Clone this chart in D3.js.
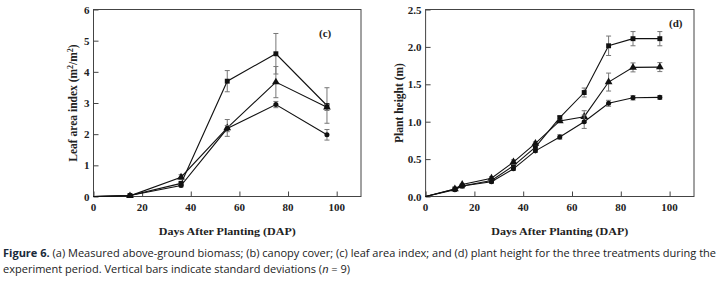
<!DOCTYPE html>
<html>
<head>
<meta charset="utf-8">
<script src="https://cdn.jsdelivr.net/npm/d3@7"></script>
<style>
  body { margin: 0; background: #fff; }
  svg { display: block; }
  .tick-label, .axis-title, .panel-tag { font-family: "Liberation Serif", "DejaVu Serif", serif; font-weight: bold; fill: #222; }
  .caption { font-family: "Liberation Sans Narrow", "Open Sans", sans-serif; fill: #222; }
</style>
</head>
<body>
<div id="chart"></div>
<script>
// (c) leaf area index
const dapC = [0, 15, 36, 55, 75, 96];
const laiSquare = [0, 0.03, 0.42, 3.70, 4.58, 2.92];
const laiSquareSd = [0, 0.01, 0.04, 0.34, 0.65, 0.57];
const laiTriangle = [0, 0.02, 0.62, 2.20, 3.67, 2.86];
const laiTriangleSd = [0, 0.01, 0.08, 0.27, 0.50, 0.10];
const laiCircle = [0, 0.03, 0.35, 2.18, 2.95, 1.98];
const laiCircleSd = [0, 0.01, 0.04, 0.10, 0.10, 0.17];

// (d) plant height
const dapD = [0, 12, 15, 27, 36, 45, 55, 65, 75, 85, 96];
const heightSquare = [0, 0.10, 0.14, 0.215, 0.41, 0.66, 1.055, 1.39, 2.015, 2.11, 2.11];
const heightSquareSd = [0, 0.01, 0.01, 0.02, 0.02, 0.03, 0.02, 0.06, 0.13, 0.095, 0.095];
const heightTriangle = [0, 0.10, 0.16, 0.245, 0.46, 0.71, 1.01, 1.067, 1.53, 1.726, 1.73];
const heightTriangleSd = [0, 0.01, 0.01, 0.02, 0.03, 0.02, 0.02, 0.08, 0.12, 0.06, 0.06];
const heightCircle = [0, 0.09, 0.14, 0.196, 0.37, 0.61, 0.796, 1.0, 1.246, 1.32, 1.325];
const heightCircleSd = [0, 0.01, 0.01, 0.02, 0.02, 0.02, 0.03, 0.09, 0.04, 0.03, 0.025];

const xTicks = [0, 20, 40, 60, 80, 100];
const laiTicks = [0, 1, 2, 3, 4, 5, 6];
const heightTicks = [0, 0.5, 1.0, 1.5, 2.0, 2.5];

const svg = d3.select("#chart").append("svg")
    .attr("width", 725)
    .attr("height", 282);

function zip(xs, ys, sds) {
    return xs.map((x, i) => ({ x: x, y: ys[i], sd: sds[i] }));
}

function drawPanel(opts) {
    const x = d3.scaleLinear().domain([0, 110]).range([opts.left, opts.right]);
    const y = d3.scaleLinear().domain(opts.yDomain).range([opts.bottom, opts.top]);
    const g = svg.append("g");

    // frame
    g.append("rect")
        .attr("x", opts.left).attr("y", opts.top)
        .attr("width", opts.right - opts.left)
        .attr("height", opts.bottom - opts.top)
        .attr("fill", "none").attr("stroke", "#444").attr("stroke-width", 1);

    // axes, ticks point inward
    const xAxis = g.append("g")
        .attr("transform", `translate(0,${opts.bottom})`)
        .call(d3.axisTop(x).tickValues(xTicks).tickSize(5).tickFormat(""));
    xAxis.select(".domain").remove();
    xAxis.selectAll("line").attr("stroke", "#444");

    const yAxis = g.append("g")
        .attr("transform", `translate(${opts.left},0)`)
        .call(d3.axisRight(y).tickValues(opts.yTicks).tickSize(5).tickFormat(""));
    yAxis.select(".domain").remove();
    yAxis.selectAll("line").attr("stroke", "#444");

    // tick labels
    g.selectAll(".xlab").data(xTicks).enter().append("text")
        .attr("class", "tick-label")
        .attr("x", d => x(d)).attr("y", opts.bottom + 14)
        .attr("text-anchor", "middle")
        .style("font-size", "11px")
        .text(d => d);
    g.selectAll(".ylab").data(opts.yTicks).enter().append("text")
        .attr("class", "tick-label")
        .attr("x", opts.left - 4).attr("y", d => y(d) + 4)
        .attr("text-anchor", "end")
        .style("font-size", "11px")
        .text(opts.yFormat);

    // axis titles
    g.append("text")
        .attr("class", "axis-title")
        .attr("x", (opts.left + opts.right) / 2).attr("y", 235)
        .attr("text-anchor", "middle")
        .style("font-size", "11px")
        .attr("textLength", 137).attr("lengthAdjust", "spacingAndGlyphs")
        .text("Days After Planting (DAP)");
    const yt = g.append("text")
        .attr("class", "axis-title")
        .attr("transform", `translate(${opts.yTitleX},${(opts.top + opts.bottom) / 2}) rotate(-90)`)
        .attr("text-anchor", "middle")
        .style("font-size", "11.5px");
    opts.yTitle(yt);

    g.append("text")
        .attr("class", "panel-tag")
        .attr("x", opts.tagX).attr("y", opts.tagY)
        .style("font-size", "11px")
        .text(opts.tag);

    const line = d3.line().x(d => x(d.x)).y(d => y(d.y));

    opts.series.forEach(s => {
        // error bars
        const eb = g.append("g");
        s.data.filter(d => d.sd > 0.015).forEach(d => {
            eb.append("line")
                .attr("x1", x(d.x)).attr("x2", x(d.x))
                .attr("y1", y(d.y - d.sd)).attr("y2", y(d.y + d.sd))
                .attr("stroke", "#777").attr("stroke-width", 1);
            [d.y - d.sd, d.y + d.sd].forEach(v => {
                eb.append("line")
                    .attr("x1", x(d.x) - 2.5).attr("x2", x(d.x) + 2.5)
                    .attr("y1", y(v)).attr("y2", y(v))
                    .attr("stroke", "#777").attr("stroke-width", 1);
            });
        });
        g.append("path")
            .datum(s.data)
            .attr("fill", "none")
            .attr("stroke", "#111")
            .attr("stroke-width", 1.1)
            .attr("d", line);
        g.selectAll(null).data(s.data.slice(1)).enter().append("path")
            .attr("transform", d => `translate(${x(d.x)},${y(d.y)})`)
            .attr("d", d3.symbol().type(s.symbol).size(s.size))
            .attr("fill", "#111");
    });
}

drawPanel({
    left: 93.5, right: 361, top: 9.5, bottom: 196.5,
    yDomain: [0, 6], yTicks: laiTicks, yFormat: d => d,
    yTitleX: 77,
    yTitle: t => {
        t.append("tspan").text("Leaf area index (m");
        t.append("tspan").attr("baseline-shift", "super").style("font-size", "8px").text("2");
        t.append("tspan").text("/m");
        t.append("tspan").attr("baseline-shift", "super").style("font-size", "8px").text("2");
        t.append("tspan").text(")");
    },
    tag: "(c)", tagX: 319, tagY: 37,
    series: [
        { data: zip(dapC, laiSquare, laiSquareSd), symbol: d3.symbolSquare, size: 24 },
        { data: zip(dapC, laiTriangle, laiTriangleSd), symbol: d3.symbolTriangle, size: 26 },
        { data: zip(dapC, laiCircle, laiCircleSd), symbol: d3.symbolCircle, size: 20 }
    ]
});

drawPanel({
    left: 425.6, right: 694, top: 9.5, bottom: 196.5,
    yDomain: [0, 2.5], yTicks: heightTicks, yFormat: d3.format(".1f"),
    yTitleX: 403,
    yTitle: t => t.text("Plant height (m)"),
    tag: "(d)", tagX: 669, tagY: 27,
    series: [
        { data: zip(dapD, heightSquare, heightSquareSd), symbol: d3.symbolSquare, size: 24 },
        { data: zip(dapD, heightTriangle, heightTriangleSd), symbol: d3.symbolTriangle, size: 26 },
        { data: zip(dapD, heightCircle, heightCircleSd), symbol: d3.symbolCircle, size: 20 }
    ]
});

// caption: size the font so line one spans the width like the reference
const cap1 = svg.append("text").attr("class", "caption")
    .attr("x", 3).attr("y", 257)
    .style("font-size", "12px");
cap1.append("tspan").style("font-weight", "bold").style("fill", "#1a2a3a").text("Figure 6.");
cap1.append("tspan").text(" (a) Measured above-ground biomass; (b) canopy cover; (c) leaf area index; and (d) plant height for the three treatments during the");
const w = cap1.node().getComputedTextLength();
const capSize = Math.min(13, 12 * 714 / w);
cap1.style("font-size", capSize + "px");

const cap2 = svg.append("text").attr("class", "caption")
    .attr("x", 3).attr("y", 273)
    .style("font-size", capSize + "px");
cap2.append("tspan").text("experiment period. Vertical bars indicate standard deviations (");
cap2.append("tspan").style("font-style", "italic").text("n");
cap2.append("tspan").text(" = 9)");
</script>
</body>
</html>
